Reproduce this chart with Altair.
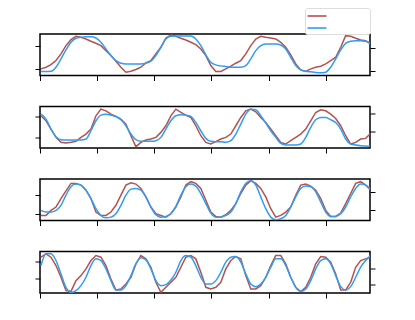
import altair as alt
import numpy as np
import pandas as pd

RED = "#b5514e"
BLUE = "#2e9df4"

# sample times (evenly spaced), 67 samples per series
N = 67
X0, DX = 1.75, 8.741
XS = [round(X0 + DX * i, 2) for i in range(N)]
X_TICKS = [0, 100, 200, 300, 400, 500]

P1_RED = [2.0, 2.5, 3.3, 4.5, 6.5, 9.0, 10.8, 11.8, 11.5, 11.0,
          10.3, 9.7, 9.0, 7.5, 6.0, 4.3, 2.5, 1.0, 1.3, 1.8,
          2.5, 3.8, 4.5, 6.5, 8.5, 11.3, 12.2, 11.8, 11.2, 10.7,
          10.0, 9.3, 8.0, 6.0, 3.0, 1.2, 1.2, 2.0, 2.8, 3.7,
          4.5, 6.5, 9.0, 11.0, 11.8, 11.5, 11.3, 11.0, 10.0, 8.5,
          6.2, 3.5, 1.7, 1.2, 2.0, 2.5, 2.8, 3.5, 4.5, 5.5,
          8.5, 12.0, 11.8, 11.2, 10.7, 10.5, 9.5]
P1_BLUE = [1.2, 1.2, 1.3, 2.5, 5.0, 7.7, 10.0, 11.2, 11.5, 11.7,
           11.7, 11.3, 10.0, 8.0, 6.0, 4.5, 3.7, 3.5, 3.5, 3.5,
           3.5, 3.7, 4.3, 6.0, 8.5, 11.0, 11.8, 11.9, 11.9, 11.9,
           11.9, 11.0, 9.0, 6.2, 4.0, 3.2, 2.9, 2.7, 2.5, 2.5,
           2.5, 3.0, 5.0, 7.5, 9.0, 9.5, 9.5, 9.5, 9.2, 8.0,
           5.5, 3.0, 1.7, 1.3, 1.1, 0.9, 0.8, 1.0, 2.5, 5.0,
           7.7, 9.7, 10.3, 10.5, 10.5, 10.3, 9.7]

P2_RED = [9.7, 8.2, 5.7, 3.2, 1.7, 1.5, 1.7, 2.0, 3.2, 4.2,
          5.7, 9.7, 11.7, 11.2, 10.2, 9.5, 8.7, 7.2, 3.7, 0.4,
          1.7, 2.4, 2.7, 3.2, 4.7, 6.7, 9.7, 11.7, 10.7, 9.9,
          9.2, 6.7, 3.7, 1.7, 1.2, 1.9, 2.7, 3.2, 4.2, 6.7,
          9.2, 11.2, 11.7, 10.9, 9.2, 7.7, 5.7, 3.7, 1.7, 1.2,
          2.2, 3.2, 4.2, 5.7, 8.2, 10.7, 11.5, 11.2, 10.2, 8.9,
          6.7, 3.7, 1.2, 1.7, 2.7, 2.9, 4.4]
P2_BLUE = [10.2, 8.7, 5.7, 3.4, 2.5, 2.4, 2.4, 2.4, 2.4, 2.7,
           5.2, 8.2, 9.9, 10.2, 9.9, 9.5, 8.5, 6.7, 4.2, 2.5,
           2.0, 2.0, 2.0, 2.2, 3.2, 5.7, 8.2, 9.7, 10.0, 9.9,
           9.5, 7.7, 5.2, 2.9, 2.0, 1.9, 1.9, 1.7, 2.2, 4.2,
           7.2, 10.2, 11.7, 11.5, 9.7, 7.5, 5.2, 3.2, 1.4, 0.9,
           0.9, 0.9, 1.2, 3.2, 6.2, 8.5, 9.2, 9.2, 8.5, 7.7,
           5.7, 2.7, 1.2, 0.9, 0.7, 0.6, 0.5]

P3_RED = [1.5, 1.5, 3.0, 4.0, 6.5, 8.8, 11.0, 11.0, 10.5, 9.0,
          6.5, 2.5, 1.5, 1.5, 2.5, 4.5, 7.5, 10.5, 11.2, 10.8,
          9.5, 7.0, 4.0, 2.0, 1.5, 1.0, 2.0, 4.0, 7.0, 10.5,
          11.5, 11.0, 9.5, 6.0, 2.5, 1.2, 1.0, 1.7, 3.0, 5.0,
          8.0, 10.5, 11.8, 11.0, 9.5, 7.0, 3.5, 1.0, 1.5, 2.5,
          4.0, 7.5, 10.5, 10.8, 10.2, 9.0, 6.5, 3.0, 1.2, 1.2,
          2.2, 5.0, 8.0, 11.0, 11.5, 10.5, 9.0]
P3_BLUE = [3.0, 2.5, 2.5, 3.0, 4.5, 7.5, 10.0, 10.8, 10.5, 9.0,
           6.5, 3.5, 1.5, 0.8, 1.0, 2.0, 4.5, 7.5, 9.3, 9.5,
           9.0, 7.0, 4.0, 1.7, 1.0, 1.2, 2.0, 4.2, 7.5, 10.0,
           10.8, 10.2, 8.0, 5.0, 2.2, 1.0, 1.0, 1.5, 2.5, 5.0,
           8.5, 11.0, 11.8, 10.5, 7.0, 3.5, 1.0, 0.2, 0.5, 1.5,
           4.0, 7.0, 9.5, 10.2, 10.0, 8.5, 5.5, 2.5, 1.2, 1.2,
           2.0, 4.0, 7.0, 9.5, 10.8, 10.5, 9.2]

P4_RED = [10.7, 11.7, 10.7, 8.2, 4.7, 0.7, 0.5, 3.7, 5.2, 7.2,
          9.7, 11.2, 10.7, 8.2, 4.2, 0.9, 1.2, 2.7, 4.7, 8.7,
          11.2, 10.2, 7.7, 3.2, 0.2, 1.7, 3.2, 4.7, 7.7, 10.7,
          11.2, 10.2, 6.2, 1.7, 1.2, 1.7, 3.2, 7.2, 9.7, 10.9,
          10.2, 5.2, 1.2, 1.2, 2.2, 4.7, 8.2, 11.2, 11.2, 8.7,
          4.7, 1.7, 0.4, 1.7, 4.7, 8.7, 10.9, 10.7, 9.2, 5.7,
          0.9, 0.9, 3.2, 7.7, 9.7, 10.2, 10.7]
P4_BLUE = [8.2, 11.7, 11.7, 9.7, 5.7, 1.7, 0.2, 0.7, 2.2, 4.7,
           8.2, 10.2, 9.7, 7.2, 3.7, 0.9, 0.9, 2.2, 5.2, 8.7,
           10.5, 9.9, 7.2, 3.7, 2.2, 2.5, 3.9, 6.2, 9.7, 11.2,
           10.7, 8.2, 4.7, 2.7, 2.7, 3.7, 6.2, 9.2, 10.7, 10.9,
           9.2, 5.7, 2.7, 1.9, 2.7, 4.7, 7.7, 10.2, 10.2, 8.2,
           4.7, 1.7, 0.5, 1.2, 3.7, 7.2, 9.7, 10.2, 8.7, 5.2,
           1.9, 0.9, 1.9, 4.7, 7.7, 9.7, 11.2]

Y_TOPS = [12.5, 12.5, 12.3, 12.4]
LEFT_TICKS = [[2.1, 8.8], [3.2, 9.4], [1.9, 7.5], [4.3, 9.4]]
RIGHT_TICKS = [[1.3, 8.4], [5.0, 10.4], [3.0, 8.3], [2.4, 7.4]]
SERIES = ["a", "b"]

PANELS = [(P1_RED, P1_BLUE), (P2_RED, P2_BLUE), (P3_RED, P3_BLUE), (P4_RED, P4_BLUE)]

legend_full = alt.Legend(
    orient="none", legendX=265, legendY=-26, title=None,
    symbolType="M-1.58,0H1.58", symbolSize=144, symbolStrokeWidth=1.6,
    symbolOffset=4, labelExpr="''", labelFontSize=10,
    labelOffset=45, padding=1, rowPadding=0,
    strokeColor="#dddddd", fillColor="white", cornerRadius=2,
)


def panel(i, red, blue):
    df = pd.DataFrame({
        "x": XS * 2,
        "y": list(red) + list(blue),
        "series": [SERIES[0]] * N + [SERIES[1]] * N,
    })
    leg = legend_full if i == 0 else None
    color = alt.Color("series:N",
                      scale=alt.Scale(domain=SERIES, range=[RED, BLUE]),
                      legend=leg)
    xenc = alt.X("x:Q", scale=alt.Scale(domain=[0, 577.5], nice=False, zero=False),
                 axis=alt.Axis(values=X_TICKS, labels=False, title=None, domain=False,
                               grid=False, tickSize=5, tickColor="black", tickWidth=1))
    base = alt.Chart(df)
    left = base.transform_filter(alt.datum.series == SERIES[0]).mark_line(
        strokeWidth=1.5, clip=True).encode(
        x=xenc,
        y=alt.Y("y:Q", scale=alt.Scale(domain=[0, Y_TOPS[i]], nice=False, zero=False),
                axis=alt.Axis(orient="left", values=LEFT_TICKS[i], labels=False, title=None,
                              domain=False, grid=False, tickSize=5, tickColor="black",
                              tickWidth=1)),
        color=color,
    )
    right = base.transform_filter(alt.datum.series == SERIES[1]).mark_line(
        strokeWidth=1.5, clip=True, interpolate="monotone").encode(
        x=xenc,
        y=alt.Y("y:Q", scale=alt.Scale(domain=[0, Y_TOPS[i]], nice=False, zero=False),
                axis=alt.Axis(orient="right", values=RIGHT_TICKS[i], labels=False, title=None,
                              domain=False, grid=False, tickSize=5, tickColor="black",
                              tickWidth=1)),
        color=color,
    )
    return alt.layer(left, right).resolve_scale(y="independent").properties(
        width=330, height=41.5)


charts = [panel(i, r, b) for i, (r, b) in enumerate(PANELS)]

chart = alt.vconcat(*charts, spacing=23.5).resolve_scale(
    color="independent").resolve_legend(color="independent").properties(
    padding={"left": 25, "top": -2, "right": 5, "bottom": 5}
).configure_view(stroke="black", strokeWidth=1.5)

chart.save("out.html", embed_options={"renderer": "svg", "actions": False})
